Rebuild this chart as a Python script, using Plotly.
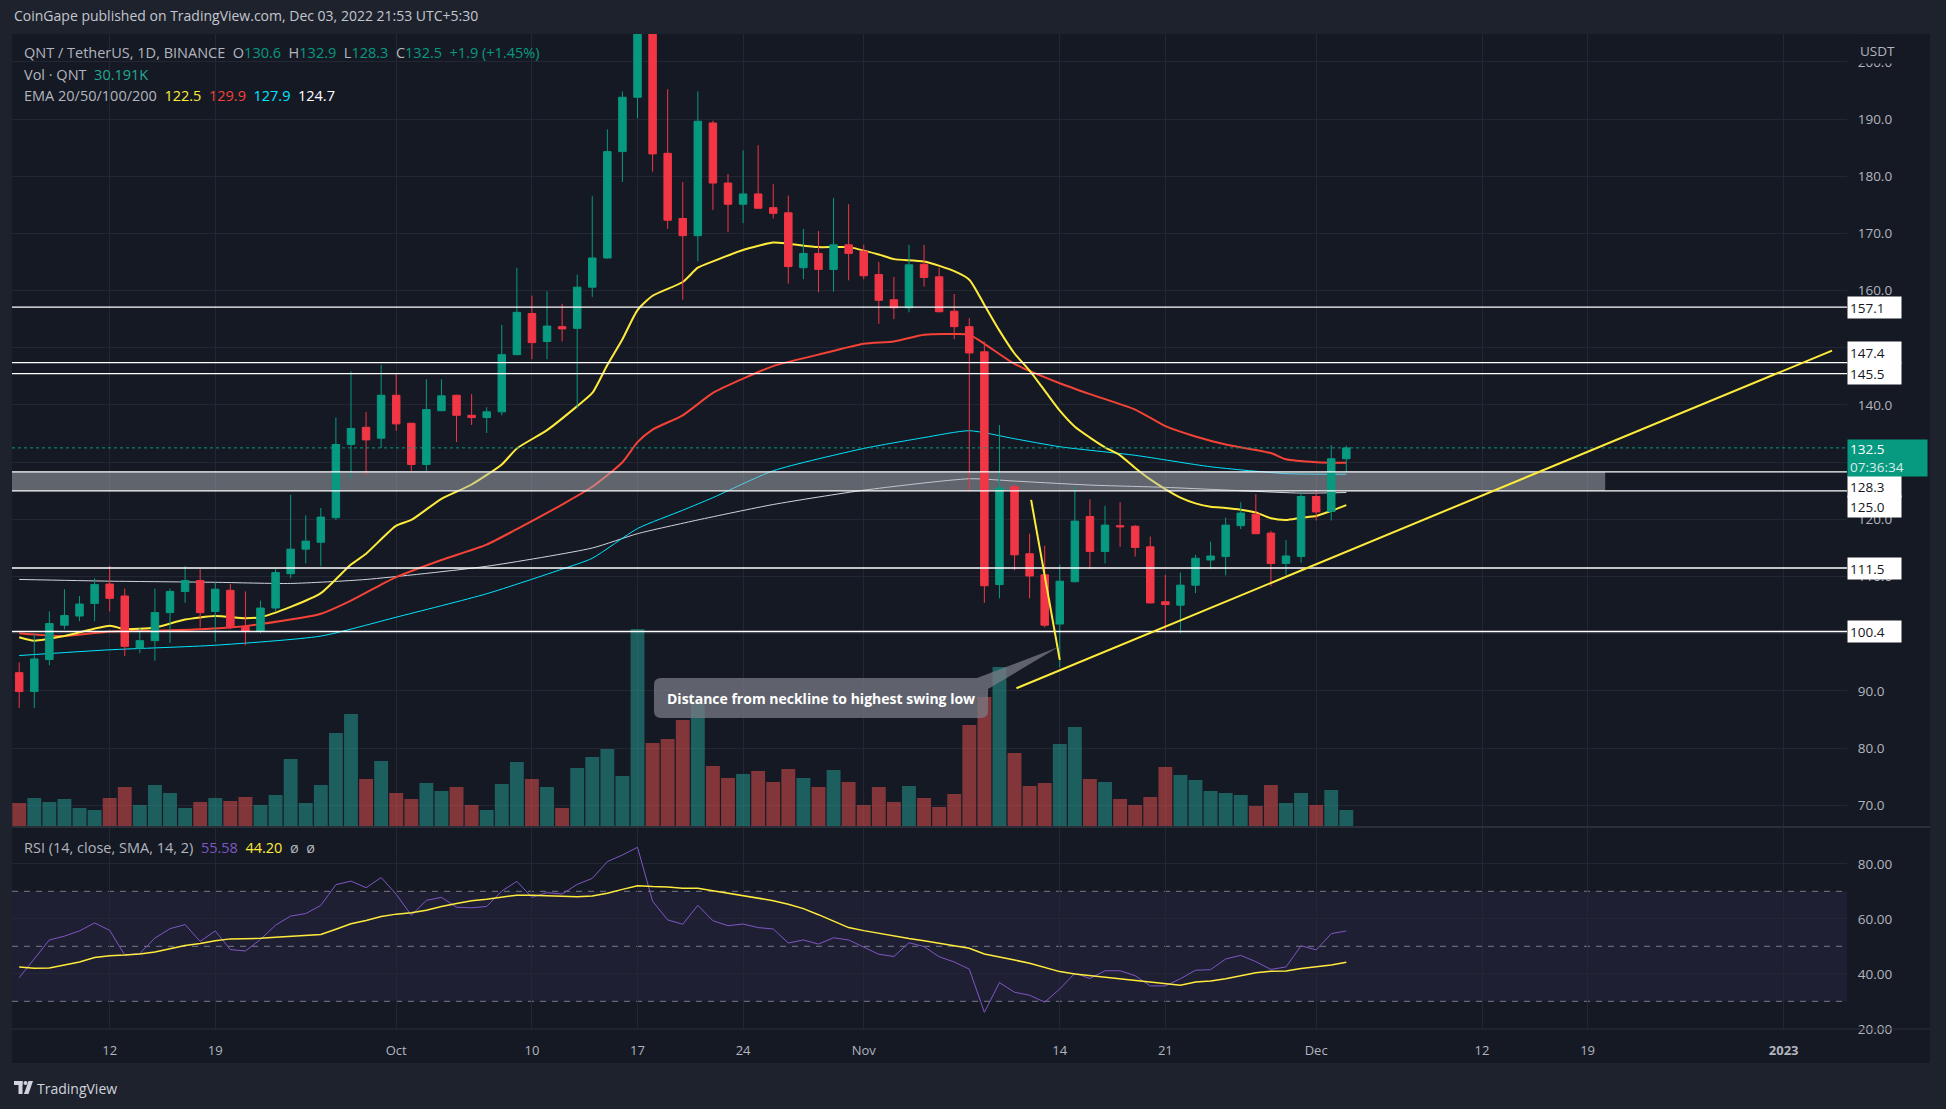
import plotly.graph_objects as go
import pandas as pd

# ---------------- data ----------------
start_date = "2022-09-06"
n_days = 89
dates = pd.date_range(start_date, periods=n_days, freq="D")

opens = [93.2, 89.9, 95.5, 101.5, 103.1, 105.3, 108.7, 106.6, 97.5, 98.8,
         103.7, 107.4, 109.3, 103.9, 107.6, 101.3, 100.4, 104.5, 110.5, 114.8,
         116.0, 120.3, 133.1, 136.1, 134.2, 141.7, 136.8, 129.6, 139.0, 141.7,
         138.2, 137.8, 138.8, 148.8, 156.0, 151.1, 153.7, 153.4, 160.6, 165.7,
         184.3, 193.8, 207.5, 184.0, 172.6, 169.6, 189.3, 178.8, 175.1, 176.9,
         174.5, 173.6, 164.0, 166.5, 163.7, 168.0, 166.9, 162.8, 158.4, 157.0,
         164.6, 162.4, 156.4, 153.7, 149.3, 108.6, 125.7, 114.0, 110.3, 101.7,
         109.1, 120.5, 114.4, 118.9, 118.8, 115.2, 105.6, 105.0, 108.5, 112.9,
         113.5, 118.9, 120.9, 117.6, 112.3, 113.5, 124.0, 121.4, 130.6]
highs = [95.0, 100.0, 103.9, 107.8, 106.6, 109.7, 111.9, 107.9, 101.1, 107.9,
         107.9, 111.8, 111.3, 109.0, 108.7, 107.4, 105.8, 111.3, 124.3, 120.7,
         122.0, 137.8, 145.9, 138.8, 147.0, 145.6, 136.9, 144.5, 144.5, 141.8,
         141.9, 139.6, 154.0, 164.0, 159.1, 159.9, 157.7, 162.8, 176.5, 188.2,
         194.8, 210.0, 210.0, 195.2, 179.0, 194.8, 189.7, 180.4, 184.5, 185.4,
         178.6, 176.6, 170.8, 170.4, 176.2, 175.1, 168.0, 165.0, 162.4, 168.0,
         168.0, 164.0, 159.4, 155.2, 151.1, 136.5, 126.1, 117.5, 115.4, 112.1,
         125.7, 123.5, 122.4, 123.0, 119.0, 117.0, 110.3, 110.7, 113.8, 116.1,
         120.3, 123.0, 124.4, 118.0, 116.4, 124.8, 125.1, 133.0, 132.9]
lows = [87.0, 87.0, 94.5, 100.8, 102.2, 102.2, 103.9, 96.1, 96.6, 95.3,
        98.4, 105.4, 101.1, 98.6, 100.8, 98.0, 100.1, 103.9, 109.7, 112.3,
        111.8, 119.9, 127.1, 127.7, 132.5, 135.5, 128.5, 128.5, 138.9, 133.5,
        136.5, 135.1, 138.2, 148.7, 148.0, 148.0, 151.1, 139.4, 158.9, 165.6,
        179.0, 190.1, 180.8, 170.8, 158.4, 165.1, 174.1, 170.2, 171.8, 174.3,
        172.6, 161.2, 162.0, 159.7, 159.8, 161.8, 162.0, 154.2, 155.0, 156.2,
        160.7, 156.2, 151.5, 124.9, 105.4, 106.2, 111.1, 106.2, 101.1, 94.1,
        109.0, 111.3, 112.3, 115.2, 113.5, 105.3, 100.4, 100.1, 107.1, 111.3,
        110.2, 118.3, 117.4, 108.3, 110.3, 112.4, 119.8, 119.8, 128.3]
closes = [89.9, 95.6, 101.8, 103.2, 105.2, 108.6, 106.2, 97.8, 98.8, 103.7,
          107.4, 109.3, 103.7, 107.8, 101.1, 100.5, 104.5, 110.7, 114.8, 116.2,
          120.4, 133.1, 135.9, 133.9, 141.7, 136.7, 129.6, 139.2, 141.6, 138.2,
          137.8, 138.8, 148.8, 156.2, 150.9, 153.8, 153.3, 160.6, 165.7, 184.3,
          193.8, 207.5, 183.9, 172.3, 169.6, 189.6, 178.8, 175.1, 176.9, 174.4,
          173.5, 164.2, 166.5, 163.7, 168.0, 166.5, 162.6, 158.3, 157.0, 164.5,
          162.3, 156.3, 153.7, 149.1, 108.4, 125.5, 113.8, 110.1, 101.5, 109.2,
          119.7, 114.4, 119.0, 118.7, 115.1, 105.4, 105.1, 108.5, 113.2, 113.6,
          119.0, 121.1, 117.5, 112.3, 113.6, 124.0, 121.3, 130.6, 132.5]
volume_k = [42.6, 51.5, 44.4, 49.7, 33.7, 30.2, 51.5, 71.0, 39.1, 74.6,
            60.4, 33.7, 44.4, 51.5, 46.2, 53.3, 39.1, 56.8, 120.8, 42.6,
            74.6, 166.9, 200.7, 85.2, 117.2, 60.4, 49.7, 78.1, 63.9, 71.0,
            39.1, 30.2, 76.4, 115.4, 85.2, 71.0, 33.7, 104.8, 124.3, 138.5,
            90.6, 351.6, 149.2, 156.3, 190.0, 220.2, 108.3, 87.0, 94.1, 99.5,
            79.9, 103.0, 87.0, 71.0, 101.2, 79.9, 39.1, 71.0, 44.4, 72.8,
            51.5, 35.5, 58.6, 181.2, 230.9, 284.2, 131.4, 72.8, 78.1, 147.4,
            177.6, 85.2, 79.9, 49.7, 39.1, 53.3, 106.6, 92.4, 83.5, 63.9,
            60.4, 56.8, 37.3, 74.6, 42.6, 60.4, 39.1, 65.7, 30.191]

N = None
ema20 = [99.4, 98.8, N, 99.6, N, N, 101.4, 100.8, N, 101.1,
         N, 102.5, N, 103.1, N, 102.7, 102.9, N, 104.7, N,
         107.1, N, 112.1, 114.0, N, 118.9, 119.9, N, 123.6, N,
         126.1, N, 129.6, 132.4, N, 135.6, N, 139.8, 142.1, 147.0,
         151.5, 156.6, 159.1, N, 161.5, 164.0, 165.1, N, 167.1, N,
         168.4, 168.2, N, 167.6, N, 167.6, N, 166.3, 165.5, N,
         165.1, N, 163.4, 161.9, 157.5, 153.0, 149.0, 146.0, 142.5, 139.0,
         136.2, 134.3, 132.6, 131.2, 129.0, 127.0, 125.3, 123.8, 122.8, 122.2,
         122.0, 121.7, 121.2, 120.2, 119.9, 120.3, 120.6, 121.5, 122.5]
ema50 = [100.1, N, N, 99.6, N, N, 100.4, N, N, N,
         100.6, N, N, N, 101.1, N, 101.7, N, N, N,
         103.5, N, 105.8, N, 108.6, 109.9, N, N, 112.9, N,
         N, 115.6, N, 118.3, N, N, 122.6, N, 125.7, N,
         130.0, 133.5, 135.7, N, 138.2, N, 142.1, N, 144.6, N,
         146.8, N, N, 148.8, N, N, 150.7, N, 151.1, N,
         152.3, N, 152.4, 152.3, 150.7, N, 147.2, N, N, 143.8,
         N, 141.9, N, N, 139.2, N, 136.3, N, 134.5, N,
         133.1, N, N, 131.6, 130.5, N, 130.0, N, 129.9]
ema100 = [96.2, N, N, N, N, N, 97.2, N, N, N,
          N, N, N, 98.0, N, N, N, N, N, N,
          99.6, N, N, N, N, 102.9, N, N, N, N,
          N, 107.0, N, N, N, N, 111.3, N, 113.2, N,
          N, 118.4, N, N, 121.6, N, 123.8, N, N, N,
          128.5, N, N, N, N, N, 132.4, N, N, N,
          134.3, N, N, 135.5, N, N, 134.1, N, N, 132.7,
          N, N, N, N, 131.2, N, N, N, N, 129.2,
          N, N, N, N, 128.0, N, N, N, 127.9]
ema200 = [109.5, N, N, N, N, N, 109.2, N, N, N,
          N, N, N, 109.0, N, N, N, N, 108.8, N,
          N, N, N, 109.5, N, N, N, N, N, N,
          N, 111.8, N, N, N, N, N, N, 115.0, N,
          N, 117.5, N, N, N, 119.9, N, N, N, N,
          122.6, N, N, N, N, N, 125.1, N, N, N,
          N, N, N, 127.1, N, N, 126.7, N, N, N,
          N, 126.0, N, N, N, N, 125.6, N, N, N,
          N, N, N, N, N, 124.6, N, N, 124.7]

rsi = [38.6, 45.4, 52.3, 53.7, 55.6, 58.5, 55.8, 46.8, 47.4, 53.0,
       56.4, 57.9, 51.8, 55.6, 48.8, 48.3, 52.5, 57.7, 61.0, 61.9,
       64.9, 72.4, 73.7, 71.3, 75.0, 68.9, 61.3, 66.7, 67.8, 64.2,
       64.0, 64.5, 70.1, 73.6, 67.8, 69.5, 69.0, 72.5, 74.7, 80.8,
       83.2, 86.0, 66.4, 59.6, 58.0, 64.9, 59.3, 57.5, 58.1, 56.8,
       56.3, 51.2, 52.3, 50.8, 53.1, 52.3, 49.6, 47.1, 46.3, 51.3,
       49.9, 46.2, 44.3, 41.7, 26.0, 36.8, 33.3, 32.2, 29.7, 34.5,
       40.2, 38.3, 41.1, 41.1, 39.3, 35.6, 35.6, 38.2, 41.3, 41.5,
       45.4, 46.7, 44.4, 41.6, 42.5, 50.2, 48.7, 54.6, 55.58]
rsi_sma = [42.5, 42.0, 42.1, 43.1, 44.3, 45.9, 46.6, 46.8, 47.2, 47.9,
           49.1, 50.3, 51.0, 52.0, 52.7, 52.8, 52.9, 53.3, 53.6, 53.9,
           54.3, 56.2, 58.2, 59.4, 60.8, 61.7, 62.2, 63.1, 64.5, 65.6,
           66.6, 67.1, 67.9, 68.6, 68.6, 68.4, 68.0, 68.0, 68.3, 69.3,
           70.7, 72.0, 71.7, 71.6, 71.1, 71.1, 70.2, 69.3, 68.5, 67.6,
           66.6, 65.3, 63.7, 61.5, 59.2, 56.8, 55.7, 54.7, 53.7, 52.8,
           52.0, 51.1, 50.1, 49.3, 47.2, 46.2, 45.0, 43.8, 42.2, 40.8,
           39.9, 39.3, 38.95, 38.35, 37.7, 36.9, 36.3, 35.8, 37.0, 37.4,
           38.2, 39.4, 40.4, 40.9, 41.0, 41.9, 42.5, 43.2, 44.20]

levels = [157.1, 147.4, 145.5, 128.3, 125.0, 111.5, 100.4]
band_low, band_high = 125.0, 128.3
band_end = "2022-12-20 04:00"
trend_x = ["2022-11-11 03:00", "2023-01-04 05:00"]
trend_y = [90.47, 149.5]
neck_x = ["2022-11-12 02:24", "2022-11-14 00:00"]
neck_y = [123.4, 95.45]

tick_dates = ["2022-09-12", "2022-09-19", "2022-10-01", "2022-10-10", "2022-10-17",
              "2022-10-24", "2022-11-01", "2022-11-14", "2022-11-21", "2022-12-01",
              "2022-12-12", "2022-12-19", "2023-01-01"]
tick_text = ["12", "19", "Oct", "10", "17", "24", "Nov", "14", "21", "Dec", "12", "19",
             "<b>2023</b>"]
price_ticks = list(range(70, 210, 10))
rsi_ticks = [20, 40, 60, 80]
countdown = "07:36:34"

# ---------------- style ----------------
UP = "#089981"
DN = "#f23645"
BG = "#151924"
FRAME = "#1e222d"
GRID = "#232733"
TXT = "#b2b5be"
FONT = "Open Sans"

W, H = 1946, 1109
ML, MR, MT, MB = 12, 99, 34, 80
PW, PH = W - ML - MR, H - MT - MB
SPLIT_PX = 827


def xp(px):
    return (px - ML) / PW


def yp(py):
    return (H - MB - py) / PH


split = yp(SPLIT_PX)
x_range = [pd.Timestamp(start_date) - pd.Timedelta(hours=11.45),
           pd.Timestamp(start_date) + pd.Timedelta(days=121.2)]
price_range = [66.22, 204.86]
rsi_range = [19.93, 93.38]

fig = go.Figure()

# EMAs (base subplot)
for vals, col, w in [(ema200, "#d1d4dc", 1), (ema100, "#00e5ff", 1),
                     (ema50, "#f44336", 2), (ema20, "#ffeb3b", 2)]:
    fig.add_trace(go.Scatter(x=dates, y=vals, mode="lines", connectgaps=True,
                             line=dict(color=col, width=w, shape="spline", smoothing=0.6),
                             xaxis="x", yaxis="y", hoverinfo="skip"))

# grey zone (above EMAs, below candles)
fig.add_trace(go.Scatter(x=[x_range[0], band_end, band_end, x_range[0]],
                         y=[band_low, band_low, band_high, band_high],
                         fill="toself", mode="lines", line=dict(width=0),
                         fillcolor="rgba(178,181,190,0.48)", xaxis="x", yaxis="y",
                         hoverinfo="skip"))

# volume
vol_colors = ["rgba(38,166,154,0.5)" if c >= o else "rgba(239,83,80,0.5)"
              for o, c in zip(opens, closes)]
fig.add_trace(go.Bar(x=dates, y=volume_k, marker=dict(color=vol_colors, line=dict(width=0)),
                     xaxis="x", yaxis="y2", hoverinfo="skip"))

# candles
fig.add_trace(go.Candlestick(x=dates, open=opens, high=highs, low=lows, close=closes,
                             increasing=dict(line=dict(color=UP, width=1), fillcolor=UP),
                             decreasing=dict(line=dict(color=DN, width=1), fillcolor=DN),
                             whiskerwidth=0, xaxis="x", yaxis="y4", hoverinfo="skip"))

# RSI
fig.add_trace(go.Scatter(x=dates, y=rsi, mode="lines", line=dict(color="#7e57c2", width=1),
                         xaxis="x", yaxis="y3", hoverinfo="skip"))
fig.add_trace(go.Scatter(x=dates, y=rsi_sma, mode="lines", line=dict(color="#ffeb3b", width=1.5),
                         xaxis="x", yaxis="y3", hoverinfo="skip"))

shapes = []
# chart panel background (incl. price & time axis area)
shapes.append(dict(type="rect", xref="paper", yref="paper", x0=xp(12), x1=xp(1930),
                   y0=yp(1063), y1=yp(34), fillcolor=BG, line=dict(width=0), layer="below"))
# RSI band & dashed levels
shapes.append(dict(type="rect", xref="paper", yref="y3", x0=0, x1=1, y0=30, y1=70,
                   fillcolor="rgba(126,87,194,0.10)", line=dict(width=0), layer="below"))
for lv in [70, 50, 30]:
    shapes.append(dict(type="line", xref="paper", yref="y3", x0=0, x1=1, y0=lv, y1=lv,
                       line=dict(color="#787b86", width=1, dash="6px,6px"), layer="below"))
# pane separator and time axis line
shapes.append(dict(type="line", xref="paper", yref="paper", x0=0, x1=xp(1930),
                   y0=split, y1=split, line=dict(color="#2a2e39", width=2)))
shapes.append(dict(type="line", xref="paper", yref="paper", x0=0, x1=xp(1930),
                   y0=0, y1=0, line=dict(color="#2a2e39", width=1)))
# horizontal levels
for lv in levels:
    shapes.append(dict(type="line", xref="paper", yref="y", x0=0, x1=1, y0=lv, y1=lv,
                       line=dict(color="#ffffff", width=1.3)))
# last price dotted line
shapes.append(dict(type="line", xref="paper", yref="y", x0=0, x1=1, y0=closes[-1], y1=closes[-1],
                   line=dict(color=UP, width=1, dash="dot")))
# trend lines
shapes.append(dict(type="line", xref="x", yref="y", x0=trend_x[0], x1=trend_x[1],
                   y0=trend_y[0], y1=trend_y[1], line=dict(color="#ffeb3b", width=2)))
shapes.append(dict(type="line", xref="x", yref="y", x0=neck_x[0], x1=neck_x[1],
                   y0=neck_y[0], y1=neck_y[1], line=dict(color="#ffeb3b", width=2)))

# callout bubble (pixel layout -> paper)
L, R, T, B, r = 654, 988, 678, 718, 7
tip = (1058.5, 647)
pts = [("M", L + r, T), ("L", 977, T), ("L", tip[0], tip[1]), ("L", R, 689),
       ("L", R, B - r), ("Q", R, B, R - r, B), ("L", L + r, B), ("Q", L, B, L, B - r),
       ("L", L, T + r), ("Q", L, T, L + r, T)]
path = ""
for p in pts:
    if p[0] == "Q":
        path += f"Q{xp(p[1]):.5f},{yp(p[2]):.5f} {xp(p[3]):.5f},{yp(p[4]):.5f} "
    else:
        path += f"{p[0]}{xp(p[1]):.5f},{yp(p[2]):.5f} "
path += "Z"
shapes.append(dict(type="path", xref="paper", yref="paper", path=path,
                   fillcolor="rgba(120,123,134,0.75)", line=dict(width=0)))

# TradingView logo (small glyph)
shapes.append(dict(type="rect", xref="paper", yref="paper", x0=xp(14), x1=xp(22.5),
                   y0=yp(1085), y1=yp(1081), fillcolor="#d1d4dc", line=dict(width=0)))
shapes.append(dict(type="rect", xref="paper", yref="paper", x0=xp(18.5), x1=xp(22.5),
                   y0=yp(1094), y1=yp(1081), fillcolor="#d1d4dc", line=dict(width=0)))
shapes.append(dict(type="circle", xref="paper", yref="paper", x0=xp(23.5), x1=xp(27.5),
                   y0=yp(1085), y1=yp(1081), fillcolor="#d1d4dc", line=dict(width=0)))
shapes.append(dict(type="path", xref="paper", yref="paper",
                   path=f"M{xp(24):.5f},{yp(1094):.5f} L{xp(28.5):.5f},{yp(1094):.5f} "
                        f"L{xp(33):.5f},{yp(1081):.5f} L{xp(28.5):.5f},{yp(1081):.5f} Z",
                   fillcolor="#d1d4dc", line=dict(width=0)))

ann = []


def a(text, x, y, size=13, color=TXT, xanchor="left", yanchor="middle", **kw):
    d = dict(text=text, x=x, y=y, xref=kw.pop("xref", "paper"), yref=kw.pop("yref", "paper"),
             showarrow=False, xanchor=xanchor, yanchor=yanchor,
             font=dict(size=size, color=color, family=FONT))
    d.update(kw)
    ann.append(d)


def span(t, c):
    return f"<span style='color:{c}'>{t}</span>"


SP = "\u00a0\u00a0"
LEG = 14.5
a("CoinGape published on TradingView.com, Dec 03, 2022 21:53 UTC+5:30", xp(12), yp(16),
  size=14, color="#c3c6ce")
chg = closes[-1] - closes[-2]
pct = chg / closes[-2] * 100
line1 = (span("QNT / TetherUS, 1D, BINANCE" + SP + "O", TXT) + span(f"{opens[-1]:.1f}", UP)
         + span(SP + "H", TXT) + span(f"{highs[-1]:.1f}", UP)
         + span(SP + "L", TXT) + span(f"{lows[-1]:.1f}", UP)
         + span(SP + "C", TXT) + span(f"{closes[-1]:.1f}", UP)
         + span(f"{SP}+{chg:.1f} (+{pct:.2f}%)", UP))
a(line1, xp(22), yp(53), size=LEG)
a(span("Vol · QNT" + SP, TXT) + span(f"{volume_k[-1]:.3f}K", "#22ab94"), xp(22), yp(74.5), size=LEG)
a(span("EMA 20/50/100/200" + SP, TXT) + span(f"{ema20[-1]:.1f}", "#ffeb3b")
  + span(f"{SP}{ema50[-1]:.1f}", "#f44336") + span(f"{SP}{ema100[-1]:.1f}", "#00e5ff")
  + span(f"{SP}{ema200[-1]:.1f}", "#ffffff"), xp(22), yp(96), size=LEG)
a(span("RSI (14, close, SMA, 14, 2)" + SP, TXT) + span(f"{rsi[-1]:.2f}", "#7e57c2")
  + span(f"{SP}{rsi_sma[-1]:.2f}", "#ffeb3b") + span(f"{SP}ø{SP}ø", TXT),
  xp(22), yp(847), size=LEG)
a("USDT", xp(1856), yp(51), size=13.5, color=TXT, bgcolor=BG, borderpad=3)
a("<b>Distance from neckline to highest swing low</b>", xp(821), yp(698), size=14,
  color="#ffffff", xanchor="center")
a("TradingView", xp(35), yp(1088), size=14, color="#d1d4dc")

# price level labels (TradingView stacks overlapping labels)
label_shift = {157.1: 0, 147.4: 10, 145.5: 0, 128.3: -15, 125.0: -16, 111.5: 0, 100.4: 0}
for lv in levels:
    ann.append(dict(text=f"{lv:.1f}", x=1, xref="paper", y=lv, yref="y", showarrow=False,
                    xanchor="left", yanchor="middle", align="left", bgcolor="#ffffff",
                    borderpad=2, width=49, height=17, yshift=label_shift[lv],
                    font=dict(size=13.5, color="#131722", family=FONT)))
ann.append(dict(text=f"{closes[-1]:.1f}<br><span style='color:#d6efe9'>{countdown}</span>",
                x=1, xref="paper", y=closes[-1], yref="y", yshift=9, showarrow=False,
                xanchor="left", yanchor="top", align="left", valign="middle", bgcolor=UP,
                borderpad=2, width=75, height=32,
                font=dict(size=13.5, color="#ffffff", family=FONT)))

fig.update_layout(
    width=W, height=H, margin=dict(l=ML, r=MR, t=MT, b=MB),
    paper_bgcolor=FRAME, plot_bgcolor=BG, showlegend=False, hovermode=False,
    font=dict(family=FONT, color=TXT, size=13), bargap=0.08, boxgap=0.29,
    xaxis=dict(type="date", range=x_range, anchor="y3", domain=[0, 1],
               tickvals=tick_dates, ticktext=tick_text, showgrid=True, gridcolor=GRID,
               gridwidth=1, ticks="outside", ticklen=9, tickcolor="rgba(0,0,0,0)",
               tickfont=dict(size=13, color=TXT), zeroline=False, showline=False,
               rangeslider=dict(visible=False), fixedrange=True),
    yaxis=dict(domain=[split, 1], range=price_range, side="right", anchor="x",
               tickvals=price_ticks, ticktext=[f"{v:.1f}" for v in price_ticks],
               showgrid=True, gridcolor=GRID, zeroline=False, ticks="outside", ticklen=7,
               tickcolor="rgba(0,0,0,0)", tickfont=dict(size=13.5, color=TXT), fixedrange=True),
    yaxis2=dict(overlaying="y", anchor="x", range=[0, 1408], visible=False, fixedrange=True),
    yaxis4=dict(overlaying="y", anchor="x", range=price_range, visible=False, fixedrange=True),
    yaxis3=dict(domain=[0, split], range=rsi_range, side="right", anchor="x",
                tickvals=rsi_ticks, ticktext=[f"{v:.2f}" for v in rsi_ticks],
                showgrid=True, gridcolor=GRID, zeroline=False, ticks="outside", ticklen=7,
                tickcolor="rgba(0,0,0,0)", tickfont=dict(size=13.5, color=TXT), fixedrange=True),
    shapes=shapes, annotations=ann,
)

fig.write_html("out.html", config={"displayModeBar": False},
               post_script="document.body.style.margin='0';"
                           "document.body.style.overflow='hidden';"
                           "document.body.style.background='#1e222d';")
